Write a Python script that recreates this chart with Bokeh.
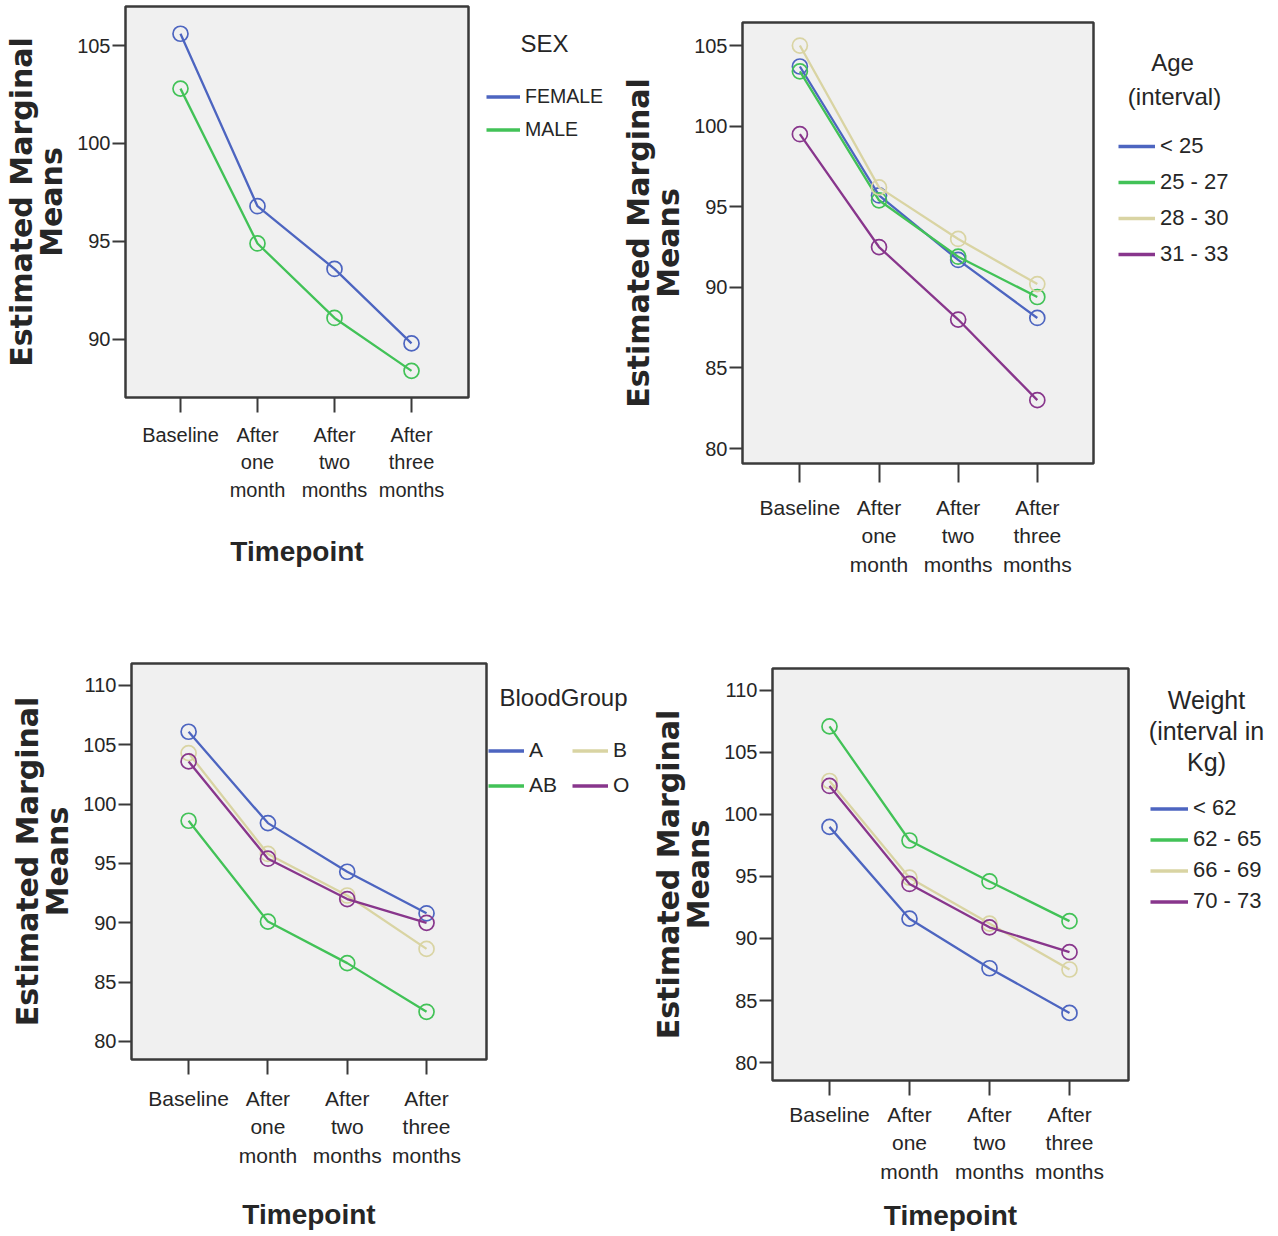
from bokeh.plotting import figure
from bokeh.models import Range1d, FixedTicker, Legend, LegendItem, Label
from bokeh.layouts import column, row
from bokeh.embed import file_html
from bokeh.resources import INLINE

# ---------------- data ----------------
timepoints = ["Baseline", "After one month", "After two months", "After three months"]
timepoint_tick_labels = ["Baseline", "After\none\nmonth", "After\ntwo\nmonths", "After\nthree\nmonths"]
x_positions = [0, 1, 2, 3]

sex_groups = ["FEMALE", "MALE"]
sex_female = [105.6, 96.8, 93.6, 89.8]
sex_male = [102.8, 94.9, 91.1, 88.4]

age_groups = ["< 25", "25 - 27", "28 - 30", "31 - 33"]
age_lt25 = [103.7, 95.7, 91.7, 88.1]
age_25_27 = [103.4, 95.4, 91.9, 89.4]
age_28_30 = [105.0, 96.2, 93.0, 90.2]
age_31_33 = [99.5, 92.5, 88.0, 83.0]

blood_groups = ["A", "AB", "B", "O"]
blood_a = [106.1, 98.4, 94.3, 90.8]
blood_ab = [98.6, 90.1, 86.6, 82.5]
blood_b = [104.3, 95.8, 92.3, 87.8]
blood_o = [103.6, 95.4, 92.0, 90.0]

weight_groups = ["< 62", "62 - 65", "66 - 69", "70 - 73"]
weight_lt62 = [99.0, 91.6, 87.6, 84.0]
weight_62_65 = [107.1, 97.9, 94.6, 91.4]
weight_66_69 = [102.7, 94.9, 91.2, 87.5]
weight_70_73 = [102.3, 94.4, 90.9, 88.9]

y_label = "Estimated Marginal\nMeans"
x_label = "Timepoint"

# ---------------- style ----------------
FONT = "Liberation Sans"
TEXT = "#262626"
FRAME = "#3a3a3a"
BLUE = "#4d65c0"
GREEN = "#42c257"
TAN = "#d9d4a3"
PURPLE = "#88368c"
LINE_W = 2.3


def build_plot(canvas, frame, xr, yr, yticks, series, colors, show_xlabel, tick_fs,
               xlab_standoff, title_standoff, xtick_out=15):
    cx, cy, cw, ch = canvas
    fl, fr, ft, fb = frame
    p = figure(width=cw, height=ch, output_backend="svg", toolbar_location=None,
               x_range=Range1d(*xr), y_range=Range1d(*yr), frame_align=False,
               min_border_left=fl - cx, min_border_right=cx + cw - fr,
               min_border_top=ft - cy, min_border_bottom=cy + ch - fb)
    p.background_fill_color = "#f0f0f0"
    p.border_fill_color = "white"
    p.outline_line_color = FRAME
    p.outline_line_width = 2.5
    p.grid.visible = False

    p.xaxis.ticker = FixedTicker(ticks=x_positions)
    p.xaxis.major_label_overrides = {x: lab for x, lab in zip(x_positions, timepoint_tick_labels)}
    p.yaxis.ticker = FixedTicker(ticks=yticks)
    for ax in (p.xaxis[0], p.yaxis[0]):
        ax.axis_line_color = None
        ax.major_tick_line_color = FRAME
        ax.major_tick_line_width = 2
        ax.major_tick_in = 0
        ax.minor_tick_line_color = None
        ax.major_label_text_font = FONT
        ax.major_label_text_color = TEXT
    p.xaxis.major_tick_out = xtick_out
    p.yaxis.major_tick_out = 13
    p.xaxis.major_label_text_font_size = f"{tick_fs}px"
    p.xaxis.major_label_text_line_height = 1.25
    p.xaxis.major_label_standoff = xlab_standoff
    p.yaxis.major_label_text_font_size = "20px"
    p.yaxis.major_label_standoff = 2

    p.yaxis.axis_label = y_label
    p.yaxis.axis_label_text_font = "DejaVu Sans"
    p.yaxis.axis_label_text_font_style = "bold"
    p.yaxis.axis_label_text_font_size = "30px"
    p.yaxis.axis_label_text_line_height = 0.85
    p.yaxis.axis_label_text_color = TEXT
    p.yaxis.axis_label_standoff = 5
    if show_xlabel:
        p.xaxis.axis_label = x_label
        p.xaxis.axis_label_text_font = FONT
        p.xaxis.axis_label_text_font_style = "bold"
        p.xaxis.axis_label_text_font_size = "28px"
        p.xaxis.axis_label_text_color = TEXT
        p.xaxis.axis_label_standoff = title_standoff

    for ys, col in zip(series, colors):
        p.line(x_positions, ys, line_color=col, line_width=LINE_W)
        p.scatter(x_positions, ys, marker="circle", size=15, fill_color=None,
                  line_color=col, line_width=1.7)
    return p


def build_legend(canvas, names, series, colors, leg, titles, leg_fs, title_fs=24):
    cx, cy, cw, ch = canvas
    q = figure(width=cw, height=ch, output_backend="svg", toolbar_location=None,
               x_range=Range1d(0, cw), y_range=Range1d(ch, 0), frame_align=False,
               x_axis_type=None, y_axis_type=None, min_border=0)
    q.outline_line_color = None
    q.grid.visible = False
    q.background_fill_color = "white"
    q.border_fill_color = "white"
    items = []
    for name, ys, col in zip(names, series, colors):
        # hidden copy of the series: only used so the legend can draw its swatch
        r = q.line(x_positions, ys, line_color=col, line_width=LINE_W + 1.2, visible=False)
        items.append(LegendItem(label=name, renderers=[r]))
    glyph_left, first_center, pitch, glyph_w, nrows, ncols, label_w = leg
    bottom = first_center - pitch / 2 + nrows * pitch
    legend = Legend(items=items, location=(glyph_left - cx, cy + ch - bottom),
                    padding=0, spacing=0, margin=0, border_line_color=None,
                    background_fill_alpha=0, glyph_width=glyph_w, glyph_height=int(round(pitch)),
                    label_height=int(round(pitch)), label_standoff=5, label_width=label_w,
                    label_text_font=FONT, label_text_font_size=f"{leg_fs}px",
                    label_text_color=TEXT, ncols=ncols)
    q.add_layout(legend)
    for text, px, py in titles:
        q.add_layout(Label(x=px - cx, y=py - cy, text=text, text_align="center",
                           text_baseline="middle", text_font=FONT,
                           text_font_size=f"{title_fs}px", text_color=TEXT))
    return q


p1 = build_plot(canvas=(0, 0, 470, 620), frame=(125, 468, 6, 397),
                xr=(-0.714, 3.74), yr=(87.04, 106.99), yticks=[90, 95, 100, 105],
                series=[sex_female, sex_male], colors=[BLUE, GREEN],
                show_xlabel=True, tick_fs=20, xlab_standoff=11, title_standoff=32)
l1 = build_legend(canvas=(470, 0, 148, 620), names=sex_groups,
                  series=[sex_female, sex_male], colors=[BLUE, GREEN],
                  leg=(486, 96, 33, 34, 2, 1, 0), titles=[("SEX", 544, 43)], leg_fs=19.5)

p2 = build_plot(canvas=(618, 0, 477, 620), frame=(738, 1093, 22, 463),
                xr=(-0.725, 3.71), yr=(79.07, 106.43), yticks=[80, 85, 90, 95, 100, 105],
                series=[age_lt25, age_25_27, age_28_30, age_31_33],
                colors=[BLUE, GREEN, TAN, PURPLE], show_xlabel=False, tick_fs=21,
                xlab_standoff=13, title_standoff=20, xtick_out=19)
l2 = build_legend(canvas=(1095, 0, 183, 620), names=age_groups,
                  series=[age_lt25, age_25_27, age_28_30, age_31_33],
                  colors=[BLUE, GREEN, TAN, PURPLE], leg=(1118, 147, 35.7, 37, 4, 1, 0),
                  titles=[("Age", 1172, 62), ("(interval)", 1174, 96)], leg_fs=22)

p3 = build_plot(canvas=(0, 620, 488, 616), frame=(131, 486, 663, 1059),
                xr=(-0.72, 3.756), yr=(78.48, 111.85), yticks=[80, 85, 90, 95, 100, 105, 110],
                series=[blood_a, blood_ab, blood_b, blood_o],
                colors=[BLUE, GREEN, TAN, PURPLE], show_xlabel=True, tick_fs=21,
                xlab_standoff=12, title_standoff=29)
l3 = build_legend(canvas=(488, 620, 152, 616), names=blood_groups,
                  series=[blood_a, blood_ab, blood_b, blood_o],
                  colors=[BLUE, GREEN, TAN, PURPLE], leg=(488, 750, 35, 36, 2, 2, 43),
                  titles=[("BloodGroup", 563, 697)], leg_fs=21)

p4 = build_plot(canvas=(640, 620, 490, 616), frame=(772, 1128, 668, 1080),
                xr=(-0.7125, 3.7375), yr=(78.55, 111.77), yticks=[80, 85, 90, 95, 100, 105, 110],
                series=[weight_lt62, weight_62_65, weight_66_69, weight_70_73],
                colors=[BLUE, GREEN, TAN, PURPLE], show_xlabel=True, tick_fs=21,
                xlab_standoff=7, title_standoff=14)
l4 = build_legend(canvas=(1130, 620, 148, 616), names=weight_groups,
                  series=[weight_lt62, weight_62_65, weight_66_69, weight_70_73],
                  colors=[BLUE, GREEN, TAN, PURPLE], leg=(1150, 807, 31.3, 38, 4, 1, 0),
                  titles=[("Weight", 1206, 699), ("(interval in", 1206, 730), ("Kg)", 1206, 761)],
                  leg_fs=22, title_fs=25)

layout = column(row(p1, l1, p2, l2), row(p3, l3, p4, l4))
open("out.html", "w").write(file_html(layout, INLINE))
